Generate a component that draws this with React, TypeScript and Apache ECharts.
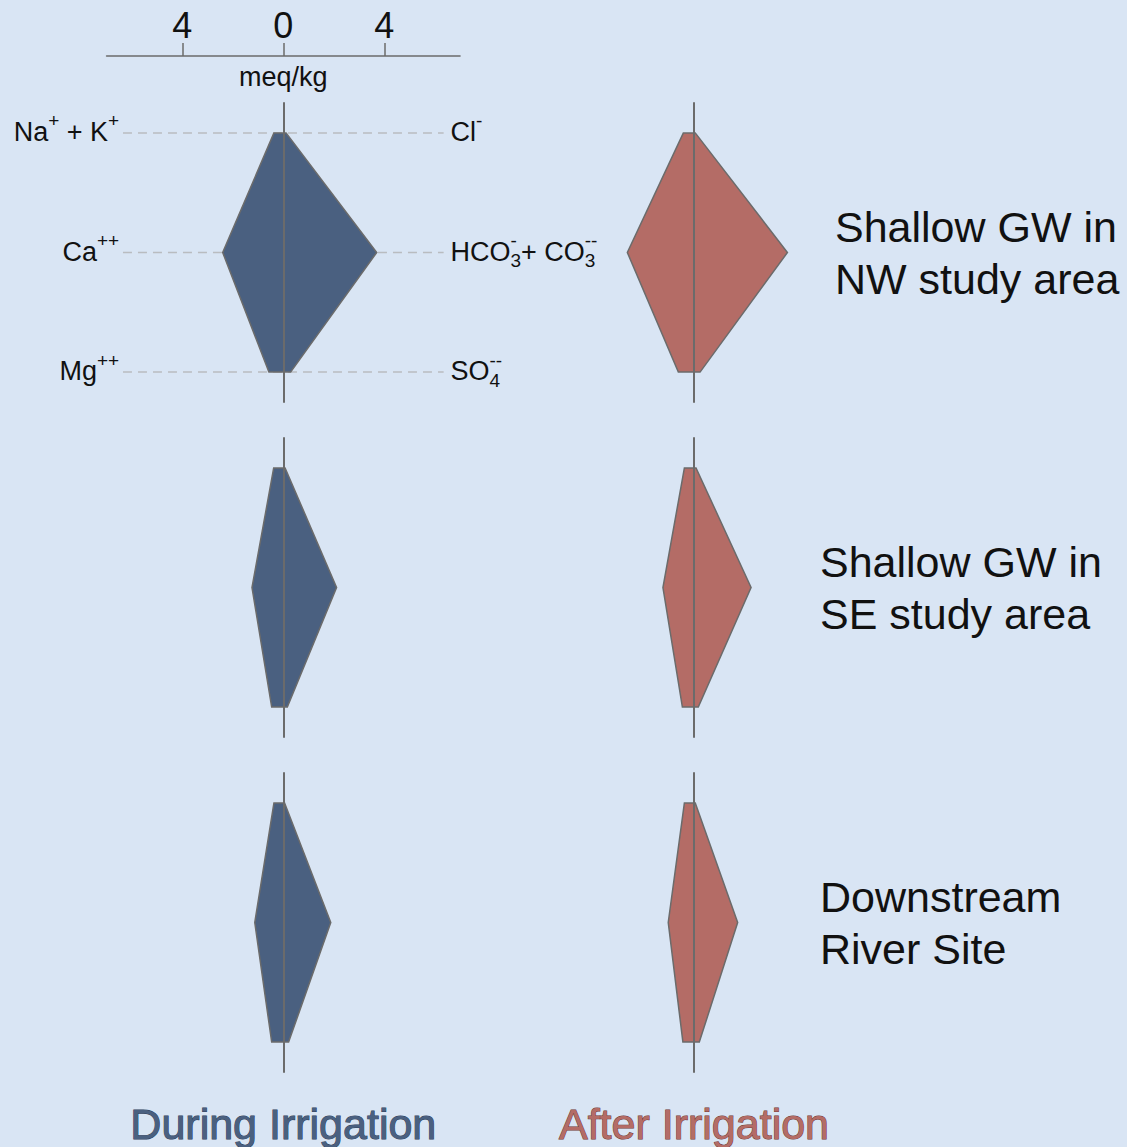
import React, { useEffect, useRef } from 'react';
import * as echarts from 'echarts';

// ---- data (meq/kg) ----
const SITES = [
  ['Shallow GW in', 'NW study area'],
  ['Shallow GW in', 'SE study area'],
  ['Downstream', 'River Site'],
];
const PERIODS = ['During Irrigation', 'After Irrigation'];
const X_TICKS = [-4, 0, 4];
const LEVELS = [0, 1, 2];
// cations (left side): [Na+K, Ca, Mg]; anions (right side): [Cl, HCO3+CO3, SO4]
const duringCations = [
  [0.37, 2.4, 0.57],
  [0.38, 1.24, 0.46],
  [0.37, 1.13, 0.46],
];
const duringAnions = [
  [0.11, 3.7, 0.29],
  [0.07, 2.11, 0.16],
  [0.05, 1.88, 0.21],
];
const afterCations = [
  [0.42, 2.64, 0.62],
  [0.38, 1.23, 0.46],
  [0.38, 1.02, 0.44],
];
const afterAnions = [
  [0.05, 3.7, 0.24],
  [0.08, 2.26, 0.17],
  [0.05, 1.73, 0.21],
];

// ---- layout / style ----
const W = 1127;
const H = 1147;
const BG = '#D9E5F4';
const FONT = '"Liberation Sans", Arial, Helvetica, sans-serif';
const COL_CENTER = [283.3, 694];
const ROW_TOP = [103, 438, 773];
const X_MIN = -7;
const X_MAX = 7;
const UNIT = 25.25;
const GRID_W = (X_MAX - X_MIN) * UNIT;
const GRID_H = 299;
const GUIDE = 6.35;
const FILL = ['#4A6080', '#B46C66'];
const TEXT_STROKE = ['#2E3D58', '#6E3531'];
const LINE_GREY = '#6B6B6B';

type Frag = { t: string; size: number; dy: number; stack?: boolean };

let measureCtx: CanvasRenderingContext2D | null = null;
function measure(t: string, size: number) {
  if (!measureCtx) measureCtx = document.createElement('canvas').getContext('2d');
  measureCtx!.font = `${size}px ${FONT}`;
  return measureCtx!.measureText(t).width;
}

function buildLabel(frags: Frag[], x: number, y: number, align: 'left' | 'right') {
  let cursor = 0;
  let lastStart = 0;
  const placed: any[] = [];
  for (const f of frags) {
    const w = measure(f.t, f.size);
    let fx: number;
    if (f.stack) {
      fx = lastStart;
      cursor = Math.max(cursor, lastStart + w);
    } else {
      fx = cursor;
      lastStart = fx;
      cursor = fx + w;
    }
    placed.push({ f, fx });
  }
  const x0 = align === 'right' ? x - cursor : x;
  return {
    type: 'group',
    silent: true,
    children: placed.map(({ f, fx }) => ({
      type: 'text',
      x: x0 + fx,
      y: y + f.dy,
      style: {
        text: f.t,
        fontSize: f.size,
        fontFamily: FONT,
        fill: '#111111',
        align: 'left',
        verticalAlign: 'middle',
      },
    })),
  };
}

const M = 27;
const S = 19;
const SUP = -12;
const SUB = 8;
const LEFT_LABELS: Frag[][] = [
  [
    { t: 'Na', size: M, dy: -1 },
    { t: '+', size: S, dy: SUP },
    { t: ' + K', size: M, dy: -1 },
    { t: '+', size: S, dy: SUP },
  ],
  [
    { t: 'Ca', size: M, dy: -1 },
    { t: '++', size: S, dy: SUP },
  ],
  [
    { t: 'Mg', size: M, dy: -1 },
    { t: '++', size: S, dy: SUP },
  ],
];
const RIGHT_LABELS: Frag[][] = [
  [
    { t: 'Cl', size: M, dy: -1 },
    { t: '-', size: S, dy: SUP },
  ],
  [
    { t: 'HCO', size: M, dy: -1 },
    { t: '3', size: S, dy: SUB },
    { t: '-', size: S, dy: SUP, stack: true },
    { t: '+ CO', size: M, dy: -1 },
    { t: '3', size: S, dy: SUB },
    { t: '--', size: S, dy: SUP, stack: true },
  ],
  [
    { t: 'SO', size: M, dy: -1 },
    { t: '4', size: S, dy: SUB },
    { t: '--', size: S, dy: SUP, stack: true },
  ],
];

export default function App() {
  const ref = useRef<HTMLDivElement>(null);
  useEffect(() => {
    document.body.style.margin = '0';
    const chart = echarts.init(ref.current!, null, { renderer: 'svg' });

    const grids: any[] = [];
    const xAxes: any[] = [];
    const yAxes: any[] = [];
    const series: any[] = [];

    for (let r = 0; r < 3; r++) {
      for (let c = 0; c < 2; c++) {
        const gi = r * 2 + c;
        grids.push({
          left: COL_CENTER[c] - GRID_W / 2,
          top: ROW_TOP[r],
          width: GRID_W,
          height: GRID_H,
          containLabel: false,
        });
        const isMain = gi === 0;
        xAxes.push({
          gridIndex: gi,
          type: 'value',
          min: X_MIN,
          max: X_MAX,
          show: isMain,
          position: 'top',
          offset: 47,
          axisLine: { show: isMain, onZero: false, lineStyle: { color: LINE_GREY, width: 1.5 } },
          axisTick: {
            show: isMain,
            length: 13,
            customValues: X_TICKS,
            lineStyle: { color: LINE_GREY, width: 1.5 },
          },
          axisLabel: {
            show: isMain,
            customValues: X_TICKS,
            formatter: (v: number) => String(Math.abs(v)),
            fontSize: 36,
            fontFamily: FONT,
            color: '#111111',
            margin: 13,
          },
          splitLine: { show: false },
        });
        yAxes.push({
          gridIndex: gi,
          type: 'value',
          inverse: true,
          min: -0.25,
          max: 2.25,
          z: 10,
          axisLine: { show: true, onZero: true, lineStyle: { color: LINE_GREY, width: 2 } },
          axisTick: { show: false },
          axisLabel: { show: false },
          splitLine: { show: false },
        });

        const cat = c === 0 ? duringCations[r] : afterCations[r];
        const an = c === 0 ? duringAnions[r] : afterAnions[r];
        const pts = [
          [-cat[0], LEVELS[0]],
          [-cat[1], LEVELS[1]],
          [-cat[2], LEVELS[2]],
          [an[2], LEVELS[2]],
          [an[1], LEVELS[1]],
          [an[0], LEVELS[0]],
        ];
        const fill = FILL[c];
        series.push({
          type: 'custom',
          name: `${PERIODS[c]} - ${SITES[r].join(' ')}`,
          xAxisIndex: gi,
          yAxisIndex: gi,
          data: pts,
          silent: true,
          z: 3,
          renderItem: (params: any, api: any) => {
            if (params.dataIndex !== 0) return null;
            return {
              type: 'polygon',
              shape: { points: pts.map((p) => api.coord(p)) },
              style: { fill, stroke: LINE_GREY, lineWidth: 1.5, lineJoin: 'miter' },
            };
          },
        });
      }
    }

    LEVELS.forEach((l) => {
      series.push({
        type: 'line',
        xAxisIndex: 0,
        yAxisIndex: 0,
        data: [
          [-GUIDE, l],
          [GUIDE, l],
        ],
        symbol: 'none',
        silent: true,
        z: 1,
        lineStyle: { type: [9, 6], color: '#B9BCC0', width: 1.5 },
      });
    });

    chart.setOption({
      animation: false,
      backgroundColor: BG,
      grid: grids,
      xAxis: xAxes,
      yAxis: yAxes,
      series,
    });

    // text layout using the axes' own scales
    const graphics: any[] = [];
    LEVELS.forEach((l, i) => {
      const [lx, ly] = chart.convertToPixel({ gridIndex: 0 }, [-6.5, l]) as number[];
      const [rx] = chart.convertToPixel({ gridIndex: 0 }, [6.62, l]) as number[];
      graphics.push(buildLabel(LEFT_LABELS[i], lx, ly, 'right'));
      graphics.push(buildLabel(RIGHT_LABELS[i], rx, ly, 'left'));
    });
    const [mx] = chart.convertToPixel({ gridIndex: 0 }, [0, 0]) as number[];
    graphics.push({
      type: 'text',
      x: mx,
      y: 77,
      silent: true,
      style: { text: 'meq/kg', fontSize: 27, fontFamily: FONT, fill: '#111111', align: 'center', verticalAlign: 'middle' },
    });
    const SITE_X = [835, 820, 820];
    SITES.forEach((lines, r) => {
      const [, sy] = chart.convertToPixel({ gridIndex: r * 2 + 1 }, [0, LEVELS[1]]) as number[];
      graphics.push({
        type: 'text',
        x: SITE_X[r],
        y: sy,
        silent: true,
        style: {
          text: lines.join('\n'),
          fontSize: 43,
          lineHeight: 52,
          fontFamily: FONT,
          fill: '#111111',
          align: 'left',
          verticalAlign: 'middle',
        },
      });
    });
    PERIODS.forEach((p, c) => {
      const [px] = chart.convertToPixel({ gridIndex: 4 + c }, [0, 0]) as number[];
      graphics.push({
        type: 'text',
        x: px,
        y: 1124,
        silent: true,
        style: {
          text: p,
          fontSize: 43,
          fontFamily: FONT,
          fill: FILL[c],
          stroke: TEXT_STROKE[c],
          lineWidth: 1,
          align: 'center',
          verticalAlign: 'middle',
        },
      });
    });
    chart.setOption({ graphic: graphics });

    return () => chart.dispose();
  }, []);

  return <div ref={ref} style={{ width: W, height: H }} />;
}
